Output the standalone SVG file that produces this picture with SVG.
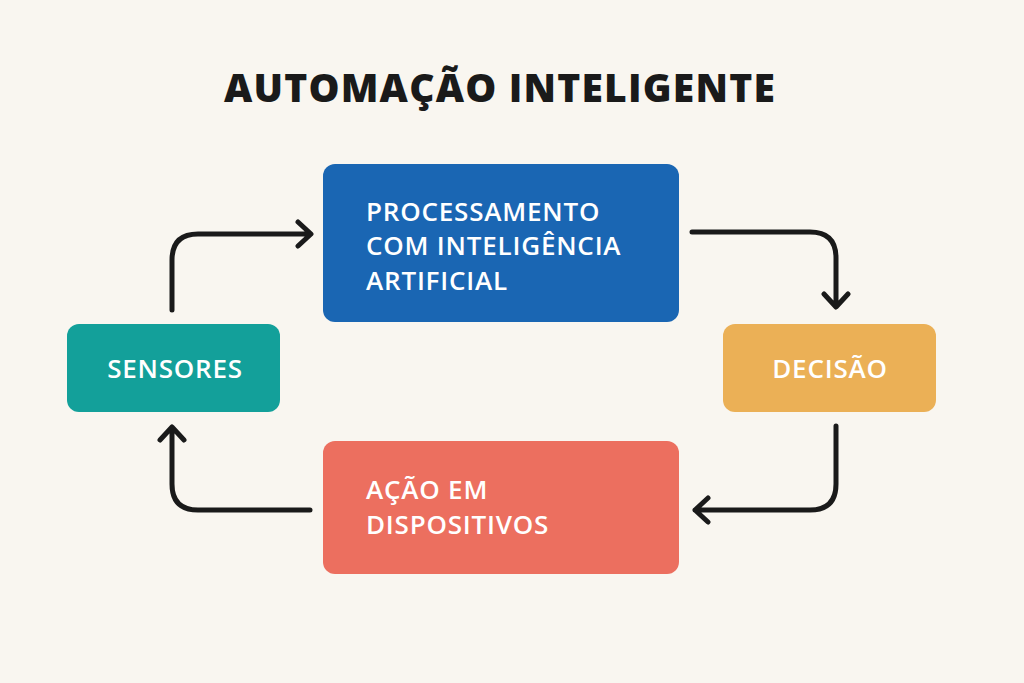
<svg xmlns="http://www.w3.org/2000/svg" width="1024" height="683" viewBox="0 0 1024 683">
<style>
.t{font-family:"Open Sans","Liberation Sans",sans-serif;font-weight:600;fill:#fff;font-size:26px;letter-spacing:0.8px}
.c{fill:none;stroke:#1a1a1a;stroke-width:5;stroke-linecap:round;stroke-linejoin:round}
</style>
<rect width="1024" height="683" fill="#f9f6f0"/>
<text x="500" y="102" text-anchor="middle" font-family="Open Sans,Liberation Sans,sans-serif" font-weight="800" font-size="39" letter-spacing="1.2" fill="#1a1a1a">AUTOMAÇÃO INTELIGENTE</text>
<g id="proc"><rect x="323" y="164" width="356" height="158" rx="12" fill="#1a66b3"/>
<text class="t" x="366" y="221">PROCESSAMENTO</text><text class="t" x="366" y="255">COM INTELIGÊNCIA</text><text class="t" x="366" y="290">ARTIFICIAL</text></g>
<g id="sens"><rect x="67" y="324" width="213" height="88" rx="12" fill="#13a09a"/><text class="t" x="175" y="378" text-anchor="middle">SENSORES</text></g>
<g id="dec"><rect x="723" y="324" width="213" height="88" rx="12" fill="#ebb056"/><text class="t" x="830" y="378" text-anchor="middle">DECISÃO</text></g>
<g id="acao"><rect x="323" y="441" width="356" height="133" rx="12" fill="#ec6f5f"/>
<text class="t" x="366" y="499">AÇÃO EM</text><text class="t" x="366" y="534">DISPOSITIVOS</text></g>
<g id="connectors">
<path class="c" d="M172 310 V260 Q172 234 198 234 H310 M298 222 L311 234 L298 246"/>
<path class="c" d="M692 232 H810 Q836 232 836 258 V306 M824 294 L836 307 L848 294"/>
<path class="c" d="M836 426 V484 Q836 510 810 510 H695 M708 498 L695 510 L708 522"/>
<path class="c" d="M310 510 H198 Q172 510 172 484 V428 M160 440 L172 427 L184 440"/>
</g>
</svg>
